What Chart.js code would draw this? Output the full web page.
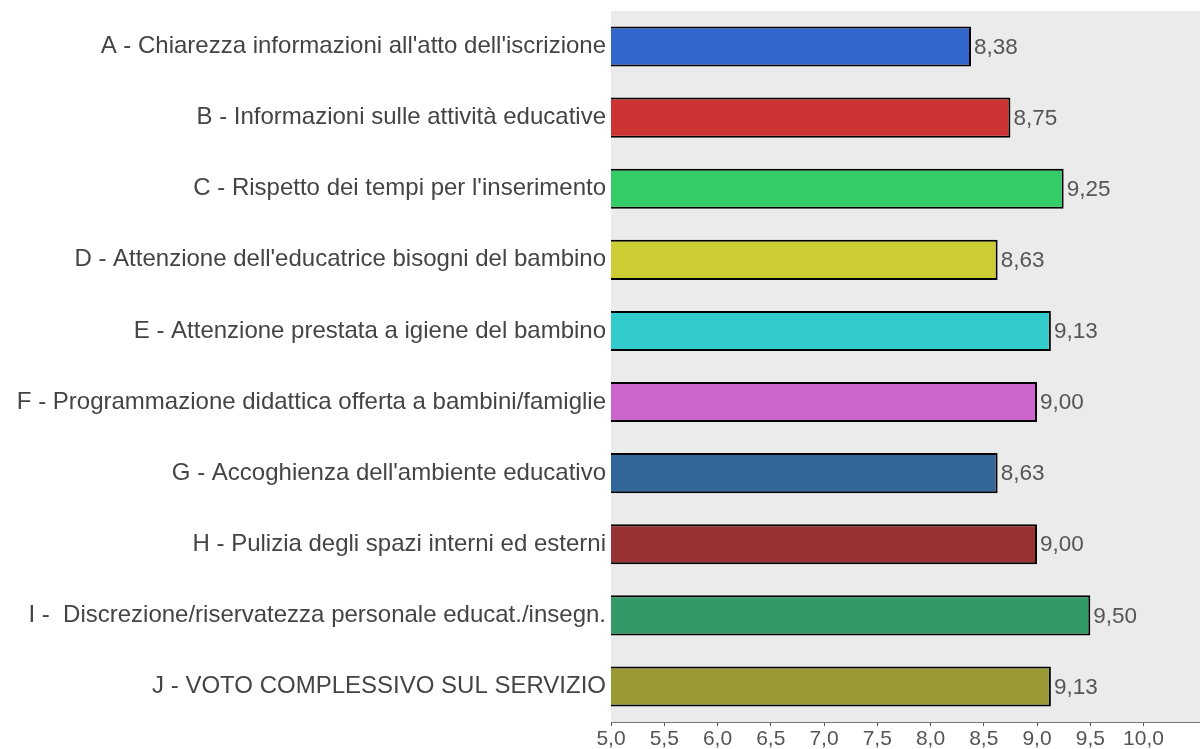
<!DOCTYPE html>
<html>
<head>
<meta charset="utf-8">
<script src="https://cdn.jsdelivr.net/npm/chart.js@4"></script>
<style>
  html, body { margin: 0; padding: 0; background: #fff; }
  #wrap { width: 1200px; height: 749px; }
</style>
</head>
<body>
<div id="wrap"><canvas id="chart"></canvas></div>
<script>
const categories = [
    "A - Chiarezza informazioni all'atto dell'iscrizione",
    "B - Informazioni sulle attività educative",
    "C - Rispetto dei tempi per l'inserimento",
    "D - Attenzione dell'educatrice bisogni del bambino",
    "E - Attenzione prestata a igiene del bambino",
    "F - Programmazione didattica offerta a bambini/famiglie",
    "G - Accoghienza dell'ambiente educativo",
    "H - Pulizia degli spazi interni ed esterni",
    "I -  Discrezione/riservatezza personale educat./insegn.",
    "J - VOTO COMPLESSIVO SUL SERVIZIO"
];
const scores = [8.38, 8.75, 9.25, 8.63, 9.13, 9.00, 8.63, 9.00, 9.50, 9.13];
const barColors = ['#3366cc', '#cc3333', '#33cc66', '#cccc33', '#33cccc',
                   '#cc66cc', '#336699', '#993333', '#339966', '#999933'];
const xTicks = [5.0, 5.5, 6.0, 6.5, 7.0, 7.5, 8.0, 8.5, 9.0, 9.5, 10.0];

const FONT = '"Liberation Sans", Arial, sans-serif';
const fmt = v => v.toFixed(2).replace('.', ',');

// grey plot background
const plotBg = {
    id: 'plotBg',
    beforeDraw(chart) {
        const { ctx, chartArea: a } = chart;
        ctx.save();
        ctx.fillStyle = '#ebebeb';
        ctx.fillRect(a.left, a.top, a.right - a.left, a.bottom - a.top);
        ctx.restore();
    }
};

// value labels at the end of each bar
const valueLabels = {
    id: 'valueLabels',
    afterDatasetsDraw(chart) {
        const ctx = chart.ctx;
        const meta = chart.getDatasetMeta(0);
        ctx.save();
        ctx.font = '22.5px ' + FONT;
        ctx.fillStyle = '#555555';
        ctx.textBaseline = 'middle';
        meta.data.forEach((bar, i) => {
            ctx.fillText(fmt(scores[i]), bar.x + 3, bar.y + 1);
        });
        ctx.restore();
    }
};

new Chart(document.getElementById('chart'), {
    type: 'bar',
    data: {
        labels: categories,
        datasets: [{
            data: scores,
            backgroundColor: barColors,
            borderColor: '#000000',
            borderWidth: 2,
            borderSkipped: false,
            barPercentage: 0.8,
            categoryPercentage: 0.705
        }]
    },
    options: {
        indexAxis: 'y',
        responsive: true,
        maintainAspectRatio: false,
        animation: false,
        layout: { padding: { top: 11, right: 0, bottom: 0, left: 0 } },
        plugins: {
            legend: { display: false },
            tooltip: { enabled: false }
        },
        scales: {
            x: {
                min: 5,
                max: 10.53,
                afterBuildTicks: axis => { axis.ticks = xTicks.map(v => ({ value: v })); },
                afterFit: axis => { axis.height = 27; axis.paddingLeft = 0; axis.paddingRight = 0; },
                grid: {
                    display: true,
                    drawOnChartArea: false,
                    drawTicks: true,
                    tickLength: 4,
                    color: '#555555'
                },
                border: { display: true, color: '#777777', dash: [1, 1], width: 1 },
                ticks: {
                    color: '#555555',
                    font: { family: FONT, size: 21 },
                    padding: 1,
                    maxRotation: 0,
                    autoSkip: false,
                    callback: v => v.toFixed(1).replace('.', ',')
                }
            },
            y: {
                grid: { display: false, drawTicks: false },
                border: { display: false },
                afterFit: axis => {
                    axis.width = 611;
                    axis.paddingTop = 0;
                    axis.paddingBottom = 0;
                },
                ticks: {
                    color: '#444444',
                    padding: 5,
                    font: { family: FONT, size: 24 }
                }
            }
        }
    },
    plugins: [plotBg, valueLabels]
});
</script>
</body>
</html>
